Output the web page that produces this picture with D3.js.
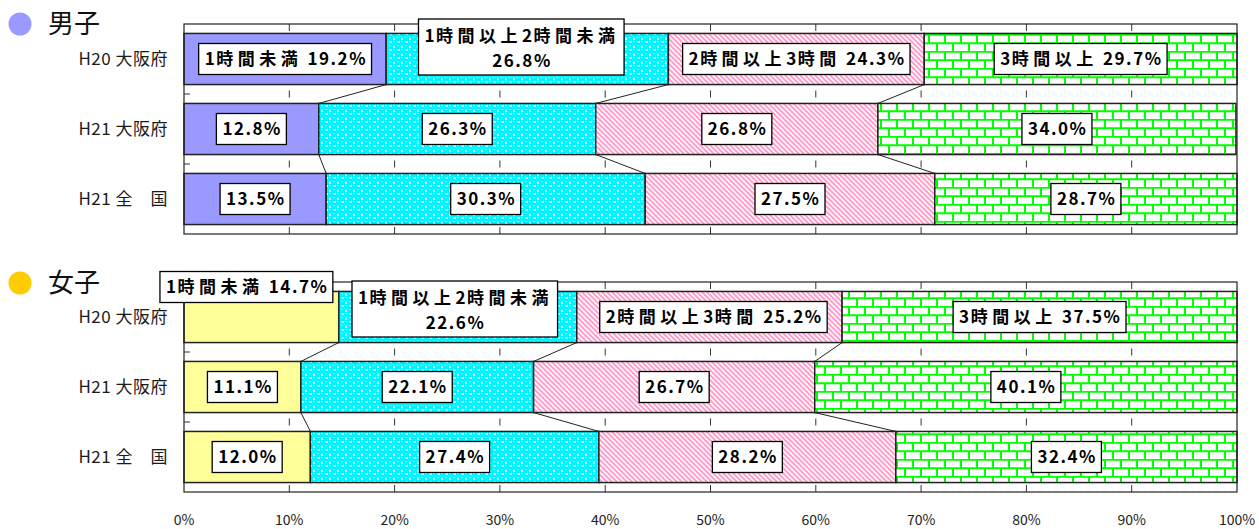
<!DOCTYPE html>
<html>
<head>
<meta charset="utf-8">
<script src="https://cdn.jsdelivr.net/npm/d3@7"></script>
<style>
  body { margin: 0; background: #fff; }
  text { font-family: "Noto Sans CJK JP", "Noto Sans", sans-serif; }
</style>
</head>
<body>
<div class="chart"></div>
<script>
// data
var categories = ["H20 大阪府", "H21 大阪府", "H21 全　国"];
var seriesNames = ["1時間未満", "1時間以上2時間未満", "2時間以上3時間", "3時間以上"];
var boysValues = [
  [19.2, 26.8, 24.3, 29.7],
  [12.8, 26.3, 26.8, 34.0],
  [13.5, 30.3, 27.5, 28.7]
];
var girlsValues = [
  [14.7, 22.6, 25.2, 37.5],
  [11.1, 22.1, 26.7, 40.1],
  [12.0, 27.4, 28.2, 32.4]
];
var xTicks = [0, 10, 20, 30, 40, 50, 60, 70, 80, 90, 100];
var xTickLabels = ["0%", "10%", "20%", "30%", "40%", "50%", "60%", "70%", "80%", "90%", "100%"];

var svgWidth = 1259;
var svgHeight = 529;

var svg = d3.select(".chart")
  .append("svg")
  .attr("width", svgWidth)
  .attr("height", svgHeight);

var xScale = d3.scaleLinear()
  .domain([0, 100])
  .range([184, 1237]);

// Patterns
var defs = svg.append("defs");

var dots = defs.append("pattern")
  .attr("id", "dots")
  .attr("patternUnits", "userSpaceOnUse")
  .attr("width", 8).attr("height", 8);
dots.append("rect").attr("width", 8).attr("height", 8).attr("fill", "#fff");
[[2, 2], [6, 6], [-2, 6], [10, 6], [6, -2], [6, 10]].forEach(function (p) {
  dots.append("circle").attr("cx", p[0]).attr("cy", p[1]).attr("r", 3.4).attr("fill", "#00f4ff");
});
[[1.2, 1.0], [5.2, 5.0]].forEach(function (p) {
  dots.append("rect").attr("x", p[0]).attr("y", p[1]).attr("width", 1.6).attr("height", 0.9).attr("fill", "#c8ffff");
});

var stripes = defs.append("pattern")
  .attr("id", "stripes")
  .attr("patternUnits", "userSpaceOnUse")
  .attr("width", 5).attr("height", 5);
stripes.append("rect").attr("width", 5).attr("height", 5).attr("fill", "#fff");
stripes.append("path")
  .attr("d", "M-1,-1 L6,6 M-3.5,1.5 L3.5,8.5 M1.5,-3.5 L8.5,3.5")
  .attr("stroke", "#ff9fcc")
  .attr("stroke-width", 2);

var bricks = defs.append("pattern")
  .attr("id", "bricks")
  .attr("patternUnits", "userSpaceOnUse")
  .attr("width", 16).attr("height", 17);
bricks.append("rect").attr("width", 16).attr("height", 17).attr("fill", "#fff");
bricks.append("path")
  .attr("d", "M0,0.75 H16 M0,9.25 H16 M1,0 V8.5 M9,8.5 V17")
  .attr("stroke", "#00ff00")
  .attr("stroke-width", 2);

// Headings
var headings = [
  {text: "男子", color: "#9999ff", y: 24},
  {text: "女子", color: "#ffcc00", y: 283}
];
headings.forEach(function (h) {
  svg.append("circle")
    .attr("cx", 20).attr("cy", h.y).attr("r", 11.5)
    .attr("fill", h.color);
  svg.append("text")
    .attr("x", 48).attr("y", h.y + 9)
    .style("font-size", "26px")
    .attr("fill", "#111")
    .text(h.text);
});

// label nudges for the first row (where the series name is written in)
var labelNudge = {
  "boys-0-1": [-6, -12],
  "girls-0-0": [-15, -30],
  "girls-0-1": [-3, -8],
  "girls-0-2": [4, 0]
};

function splitRuns(line) {
  return line.match(/[0-9.%A-Za-z ]+|[^0-9.%A-Za-z ]+/g);
}

function runSpacing(run) {
  return /[0-9.%A-Za-z ]/.test(run[0]) ? "1.5px" : "4.5px";
}

function drawLabel(g, lines, cx, cy) {
  var lineGap = 25;
  var boxH = lines.length > 1 ? 56 : 31;
  var lg = g.append("g");
  var rect = lg.append("rect");

  lines.forEach(function (line, i) {
    var y = cy + 6 + (i - (lines.length - 1) / 2) * lineGap + (lines.length > 1 ? 1 : 0);
    var t = lg.append("text")
      .attr("y", y)
      .style("font-size", "17px")
      .style("font-weight", "bold")
      .attr("fill", "#000");
    splitRuns(line).forEach(function (run) {
      t.append("tspan")
        .style("letter-spacing", runSpacing(run))
        .text(run);
    });
    var w = t.node().getBBox().width - 1.5;
    t.attr("x", cx - w / 2);
    lines[i] = w;
  });

  var boxW = d3.max(lines) + 12;
  rect.attr("x", cx - boxW / 2)
    .attr("y", cy - boxH / 2)
    .attr("width", boxW)
    .attr("height", boxH)
    .attr("fill", "#fff")
    .attr("stroke", "#000")
    .attr("stroke-width", 1.3);
}

function drawPanel(name, values, top, firstFill) {
  var height = 210;
  var fills = [firstFill, "url(#dots)", "url(#stripes)", "url(#bricks)"];

  var yScale = d3.scaleBand()
    .domain(categories)
    .range([top, top + height])
    .paddingInner(0.27)
    .paddingOuter(0.135);
  var bw = yScale.bandwidth();

  var g = svg.append("g");

  // plot area
  g.append("rect")
    .attr("x", xScale(0)).attr("y", top)
    .attr("width", xScale(100) - xScale(0)).attr("height", height)
    .attr("fill", "#fff");

  // grid dashes, visible in the gaps between bars
  var gaps = [[top, yScale(categories[0])]];
  for (var i = 0; i < categories.length - 1; i++) {
    gaps.push([yScale(categories[i]) + bw, yScale(categories[i + 1])]);
  }
  gaps.push([yScale(categories[categories.length - 1]) + bw, top + height]);
  gaps.forEach(function (gp, gi) {
    var len = Math.min(7, gp[1] - gp[0]);
    var mid = (gp[0] + gp[1]) / 2;
    if (gi == 0) mid = gp[0] + len / 2;
    if (gi == gaps.length - 1) mid = gp[1] - len / 2;
    g.selectAll(null)
      .data(xTicks.slice(1, -1))
      .enter()
      .append("line")
      .attr("x1", d => xScale(d)).attr("x2", d => xScale(d))
      .attr("y1", mid - len / 2).attr("y2", mid + len / 2)
      .attr("stroke", "#333").attr("stroke-width", 1);
  });

  // category axis ticks
  for (var j = 1; j < gaps.length - 1; j++) {
    var ym = (gaps[j][0] + gaps[j][1]) / 2;
    g.append("line")
      .attr("x1", xScale(0)).attr("x2", xScale(0) + 6)
      .attr("y1", ym).attr("y2", ym)
      .attr("stroke", "#333");
  }

  var cums = values.map(function (row) { return [0].concat(Array.from(d3.cumsum(row))); });

  // series lines between the bars
  for (var r = 0; r < values.length - 1; r++) {
    for (var k = 1; k < 4; k++) {
      g.append("line")
        .attr("x1", xScale(cums[r][k])).attr("y1", yScale(categories[r]) + bw)
        .attr("x2", xScale(cums[r + 1][k])).attr("y2", yScale(categories[r + 1]))
        .attr("stroke", "#222").attr("stroke-width", 1);
    }
  }

  // bars
  values.forEach(function (row, ri) {
    g.selectAll(null)
      .data(row)
      .enter()
      .append("rect")
      .attr("x", (d, k) => xScale(cums[ri][k]))
      .attr("y", yScale(categories[ri]))
      .attr("width", (d, k) => xScale(cums[ri][k + 1]) - xScale(cums[ri][k]))
      .attr("height", bw)
      .attr("fill", (d, k) => fills[k])
      .attr("stroke", "#222")
      .attr("stroke-width", 1.5);
  });

  // frame
  g.append("rect")
    .attr("x", xScale(0)).attr("y", top)
    .attr("width", xScale(100) - xScale(0)).attr("height", height)
    .attr("fill", "none")
    .attr("stroke", "#222").attr("stroke-width", 1.2);

  // category labels
  g.selectAll(null)
    .data(categories)
    .enter()
    .append("text")
    .attr("x", 168)
    .attr("y", d => yScale(d) + bw / 2 + 6)
    .attr("text-anchor", "end")
    .style("font-size", "17px")
    .style("letter-spacing", "0.5px")
    .attr("fill", "#1a1a1a")
    .text(d => d);

  // data labels
  values.forEach(function (row, ri) {
    row.forEach(function (v, k) {
      var val = v.toFixed(1) + "%";
      var lines;
      if (ri == 0) {
        lines = k == 1 ? [seriesNames[k], val] : [seriesNames[k] + " " + val];
      } else {
        lines = [val];
      }
      var nudge = labelNudge[name + "-" + ri + "-" + k] || [0, 0];
      var cx = (xScale(cums[ri][k]) + xScale(cums[ri][k + 1])) / 2 + nudge[0];
      var cy = yScale(categories[ri]) + bw / 2 + nudge[1];
      drawLabel(g, lines, cx, cy);
    });
  });
}

drawPanel("boys", boysValues, 24, "#9999ff");
drawPanel("girls", girlsValues, 282, "#ffff99");

// x axis labels under the second panel
svg.append("g")
  .selectAll("text")
  .data(xTicks)
  .enter()
  .append("text")
  .attr("x", d => xScale(d))
  .attr("y", 525)
  .attr("text-anchor", "middle")
  .style("font-size", "14px")
  .attr("fill", "#222")
  .text((d, i) => xTickLabels[i]);
</script>
</body>
</html>
